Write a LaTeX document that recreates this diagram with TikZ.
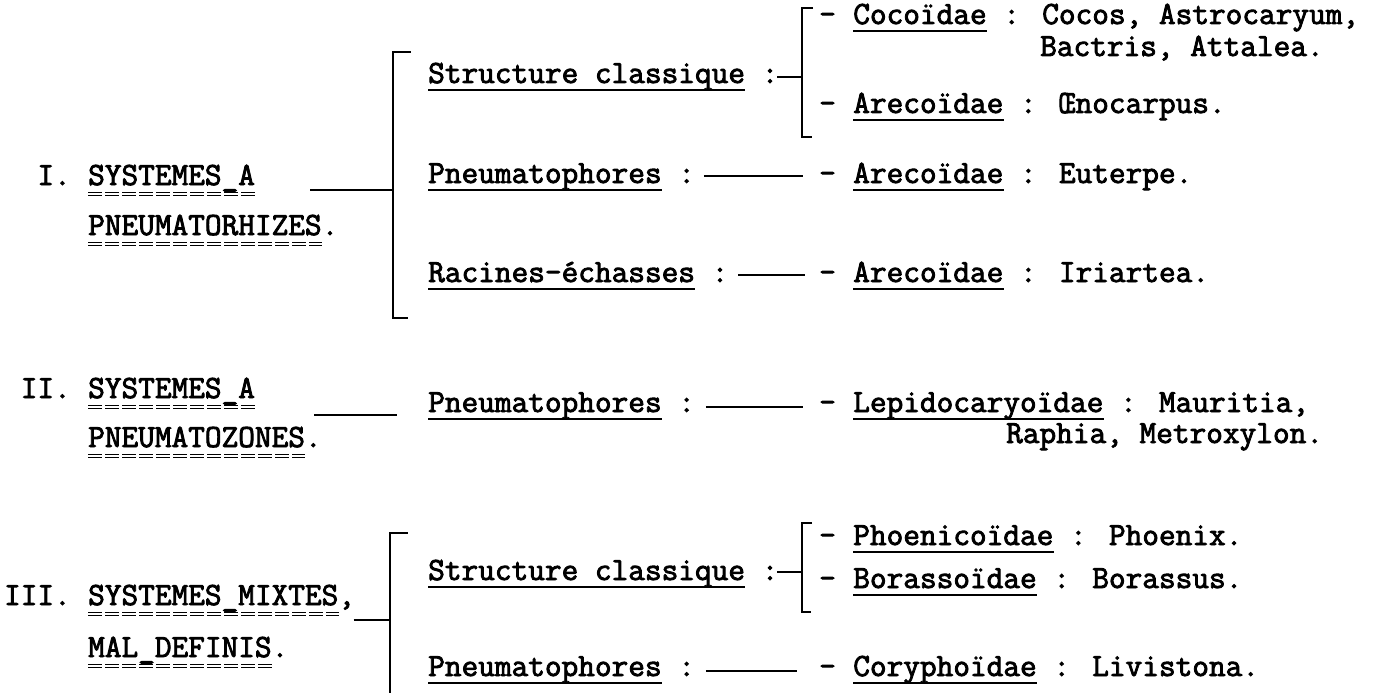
\documentclass[tikz,border=0pt]{standalone}
\usepackage{fontspec}
\newfontfamily\typewriter{Latin Modern Mono}[FakeBold=2.6]
\usetikzlibrary{positioning}

\tikzset{
    typed/.style={inner sep=0pt, anchor=base west, font=\typewriter\fontsize{32.38}{38}\selectfont},
    link/.style={line width=1.8pt},
    brack/.style={line width=2.4pt},
    uline/.style={line width=1.6pt},
    dline/.style={double, double distance=1.4pt, line width=1.2pt, dash pattern=on 14pt off 3pt}
}

\begin{document}
\begin{tikzpicture}[x=17pt, y=-1pt]

    \useasboundingbox (-5.1765,0) rectangle (75.647,693);

    % Headings
    \node[typed] (s1) at (0,185) {SYSTEMES\_A};
    \node[typed, base left=17pt of s1] (n1) {I.};
    \node[typed] (t1) at (0,235) {PNEUMATORHIZES\rlap{.}};
    \node[typed] (s2) at (0,398) {SYSTEMES\_A};
    \node[typed, base left=17pt of s2] (n2) {II.};
    \node[typed] (t2) at (0,447) {PNEUMATOZONES\rlap{.}};
    \node[typed] (s3) at (0,605) {SYSTEMES\_MIXTES\rlap{,}};
    \node[typed, base left=17pt of s3] (n3) {III.};
    \node[typed] (t3) at (0,657) {MAL\_DEFINIS\rlap{.}};

    % Structures
    \node[typed] (c1) at (20,83) {Structure classique\rlap{ :}};
    \node[typed] (p1) at (20,183) {Pneumatophores\rlap{ :}};
    \node[typed] (q1) at (20,282) {Racines-échasses\rlap{ :}};
    \node[typed] (p2) at (20,412) {Pneumatophores\rlap{ :}};
    \node[typed] (c3) at (20,580) {Structure classique\rlap{ :}};
    \node[typed] (p3) at (20,676) {Pneumatophores\rlap{ :}};

    % Families
    \node[typed] (d1) at (43,24) {-};
    \node[typed, base right=17pt of d1] (f1) {Cocoïdae\rlap{ : Cocos, Astrocaryum,}};
    \node[typed] (g1) at (56,56) {Bactris, Attalea.};
    \node[typed] (d2) at (43,113) {-};
    \node[typed, base right=17pt of d2] (f2) {Arecoïdae\rlap{ : Œnocarpus.}};
    \node[typed] (d3) at (43,183) {-};
    \node[typed, base right=17pt of d3] (f3) {Arecoïdae\rlap{ : Euterpe.}};
    \node[typed] (d4) at (43,282) {-};
    \node[typed, base right=17pt of d4] (f4) {Arecoïdae\rlap{ : Iriartea.}};
    \node[typed] (d5) at (43,412) {-};
    \node[typed, base right=17pt of d5] (f5) {Lepidocaryoïdae\rlap{ : Mauritia,}};
    \node[typed] (g5) at (54,443) {Raphia, Metroxylon.};
    \node[typed] (d6) at (43,545) {-};
    \node[typed, base right=17pt of d6] (f6) {Phoenicoïdae\rlap{ : Phoenix.}};
    \node[typed] (d7) at (43,588) {-};
    \node[typed, base right=17pt of d7] (f7) {Borassoïdae\rlap{ : Borassus.}};
    \node[typed] (d8) at (43,676) {-};
    \node[typed, base right=17pt of d8] (f8) {Coryphoïdae\rlap{ : Livistona.}};

    % Underlines
    \foreach \n in {c1,p1,q1,p2,c3,p3,f1,f2,f3,f4,f5,f6,f7,f8}
      \draw[uline] ([yshift=-7pt]\n.base west) -- ([yshift=-7pt]\n.base east);
    \foreach \n in {s1,t1,s2,t2,s3,t3}
      \draw[dline] ([yshift=-9pt]\n.base west) -- ([yshift=-9pt]\n.base east);

    % Brackets
    \coordinate (b1top) at (17.94,52);
    \coordinate (b1bot) at (17.94,318);
    \coordinate (b3top) at (17.76,533);
    \coordinate (b3bot) at (17.76,693);
    \coordinate (r1top) at (42,8);
    \coordinate (r1bot) at (42,137);
    \coordinate (r3top) at (42,523);
    \coordinate (r3bot) at (42,612);
    \draw[brack] ([xshift=18pt]b1top) -- (b1top) -- (b1bot) -- ([xshift=15pt]b1bot);
    \draw[brack] ([xshift=18pt]b3top) -- (b3top) -- (b3bot);
    \draw[brack] ([xshift=11pt]r1top) -- (r1top) -- (r1bot) -- ([xshift=10pt]r1bot);
    \draw[brack] ([xshift=10pt]r3top) -- (r3top) -- (r3bot) -- ([xshift=9pt]r3bot);

    % Links
    \draw[link] ([shift={(55pt,-5pt)}]s1.base east) coordinate (h1) -- (h1 -| b1top);
    \draw[link] ([shift={(15pt,-15pt)}]s3.base east) coordinate (h3) -- (h3 -| b3top);
    \coordinate (e2) at ([xshift=-31pt]p2.base west);
    \draw[link] ([shift={(59pt,-17pt)}]s2.base east) coordinate (h2) -- (h2 -| e2);
    \draw[link] ([shift={(32pt,6pt)}]c1.base east) coordinate (k1) -- (k1 -| r1top);
    \draw[link] ([shift={(32pt,8pt)}]c3.base east) coordinate (k3) -- (k3 -| r3top);
    \draw[link] ([shift={(42pt,7pt)}]p1.base east) -- ([shift={(-16pt,7pt)}]d3.base west);
    \draw[link] ([shift={(43pt,7pt)}]q1.base east) -- ([shift={(-14pt,7pt)}]d4.base west);
    \draw[link] ([shift={(44pt,5pt)}]p2.base east) -- ([shift={(-16pt,5pt)}]d5.base west);
    \draw[link] ([shift={(44pt,5pt)}]p3.base east) -- ([shift={(-22pt,5pt)}]d8.base west);

\end{tikzpicture}
\end{document}
